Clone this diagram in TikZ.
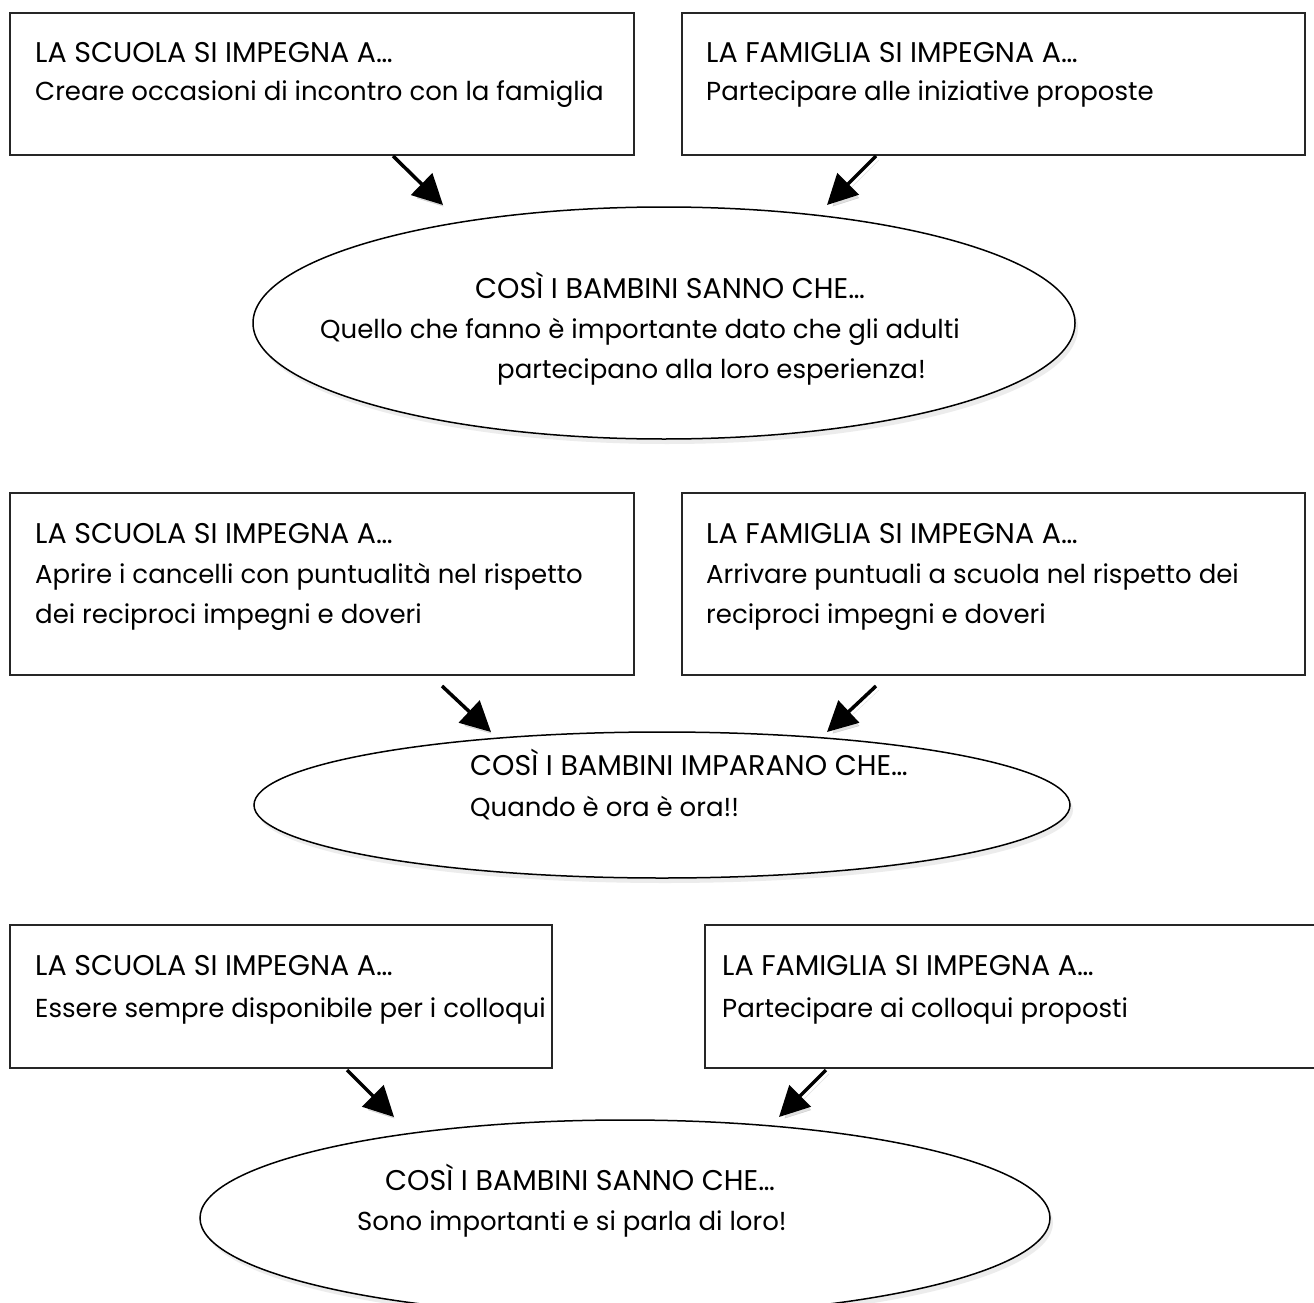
\documentclass[tikz,border=0pt]{standalone}
\usepackage{fontspec}
\setmainfont{Poppins}
\usetikzlibrary{arrows.meta,shapes.geometric,shadows}
\begin{document}
\begin{tikzpicture}[x=1pt,y=-1pt,
  box/.style={draw=black!85,line width=1.6pt,rectangle,inner sep=0pt},
  bubble/.style={draw=black,line width=1.5pt,ellipse,inner sep=0pt,fill=white,
     drop shadow={shadow xshift=3pt,shadow yshift=-5pt,opacity=0.15}},
  txt/.style={anchor=base west,inner sep=0pt,font=\fontsize{26}{30}\selectfont},
  captxt/.style={anchor=base west,inner sep=0pt,font=\fontsize{28.5}{32}\selectfont},
  arr/.style={line width=3.5pt,-{Triangle[length=30pt,width=30pt]},
     preaction={draw=black,opacity=0.12,transform canvas={xshift=3pt,yshift=-4pt}}}]
\useasboundingbox (0,0) rectangle (1314,1303);
\fill[white] (0,0) rectangle (1314,1303);

% ---------- row 1 ----------
\node[box,minimum width=624pt,minimum height=142pt] (b1) at (322,84) {};
\node[box,minimum width=623pt,minimum height=142pt] (b2) at (993.5,84) {};
\node[captxt] (t1a) at (35,63) {LA SCUOLA SI IMPEGNA A…};
\node[txt] (t1b) at (35,101) {Creare occasioni di incontro con la famiglia};
\node[captxt] (t2a) at (706,63) {LA FAMIGLIA SI IMPEGNA A…};
\node[txt] (t2b) at (706,101) {Partecipare alle iniziative proposte};

\node[bubble,minimum width=822pt,minimum height=232pt] (e1) at (664,323) {};
\node[captxt] (e1a) at (475,298) {COSÌ I BAMBINI SANNO CHE…};
\node[txt] (e1b) at (320,338) {Quello che fanno è importante dato che gli adulti};
\node[txt] (e1c) at (497,378) {partecipano alla loro esperienza!};

\coordinate (a1s) at (393,156);
\coordinate (a1e) at (443,205);
\coordinate (a2s) at (876,156);
\coordinate (a2e) at (827,205);
\draw[arr] (a1s) -- (a1e);
\draw[arr] (a2s) -- (a2e);

% ---------- row 2 ----------
\node[box,minimum width=624pt,minimum height=182pt] (b3) at (322,584) {};
\node[box,minimum width=623pt,minimum height=182pt] (b4) at (993.5,584) {};
\node[captxt] (t3a) at (35,543) {LA SCUOLA SI IMPEGNA A…};
\node[txt] (t3b) at (35,583) {Aprire i cancelli con puntualità nel rispetto};
\node[txt] (t3c) at (35,623) {dei reciproci impegni e doveri};
\node[captxt] (t4a) at (706,543) {LA FAMIGLIA SI IMPEGNA A…};
\node[txt] (t4b) at (706,583) {Arrivare puntuali a scuola nel rispetto dei};
\node[txt] (t4c) at (706,623) {reciproci impegni e doveri};

\node[bubble,minimum width=816pt,minimum height=146pt] (e2) at (662,805) {};
\node[captxt] (e2a) at (470,775) {COSÌ I BAMBINI IMPARANO CHE…};
\node[txt] (e2b) at (470,816) {Quando è ora è ora!!};

\coordinate (a3s) at (442,686);
\coordinate (a3e) at (491,732);
\coordinate (a4s) at (876,686);
\coordinate (a4e) at (827,732);
\draw[arr] (a3s) -- (a3e);
\draw[arr] (a4s) -- (a4e);

% ---------- row 3 ----------
\node[box,minimum width=542pt,minimum height=143pt] (b5) at (281,996.5) {};
\node[box,minimum width=640pt,minimum height=143pt] (b6) at (1025,996.5) {};
\node[captxt] (t5a) at (35,975) {LA SCUOLA SI IMPEGNA A…};
\node[txt] (t5b) at (35,1017) {Essere sempre disponibile per i colloqui};
\node[captxt] (t6a) at (722,975) {LA FAMIGLIA SI IMPEGNA A…};
\node[txt] (t6b) at (722,1017) {Partecipare ai colloqui proposti};

\node[bubble,minimum width=850pt,minimum height=196pt] (e3) at (625,1218) {};
\node[captxt] (e3a) at (385,1190) {COSÌ I BAMBINI SANNO CHE…};
\node[txt] (e3b) at (357,1230) {Sono importanti e si parla di loro!};

\coordinate (a5s) at (347,1070);
\coordinate (a5e) at (394,1117);
\coordinate (a6s) at (826,1070);
\coordinate (a6e) at (779,1117);
\draw[arr] (a5s) -- (a5e);
\draw[arr] (a6s) -- (a6e);
\end{tikzpicture}
\end{document}
